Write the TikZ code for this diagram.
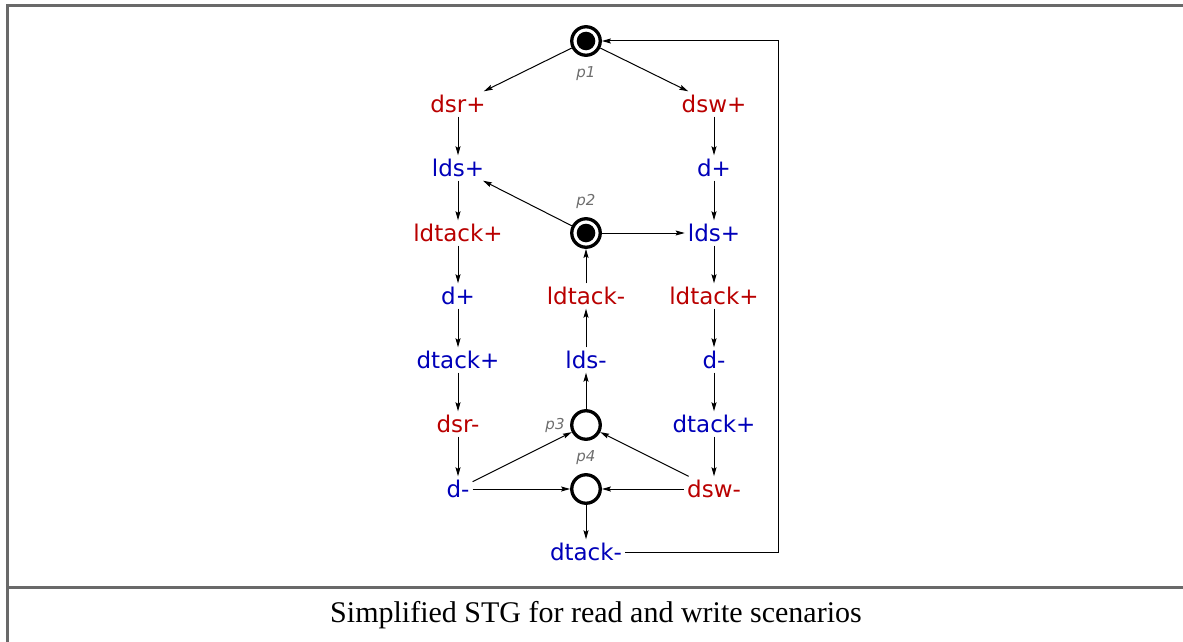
\documentclass[tikz,border=0pt]{standalone}
\usepackage{fontspec}
\newfontfamily\dvsans{DejaVu Sans}
\newfontfamily\dvsansit{DejaVu Sans Oblique}
\newfontfamily\capfont{Liberation Serif}
\usetikzlibrary{arrows.meta}
\definecolor{sigred}{RGB}{185,0,0}
\definecolor{sigblue}{RGB}{0,0,185}
\definecolor{framegray}{RGB}{105,105,105}
\definecolor{lblgray}{RGB}{110,110,110}
\tikzset{
  trans/.style={font=\dvsans\fontsize{23}{23}\selectfont, inner xsep=3pt, inner ysep=4pt,
                text height=17pt, text depth=0pt, anchor=center},
  inp/.style={trans, text=sigred},
  outp/.style={trans, text=sigblue},
  place/.style={circle, draw=black, line width=3.3pt, minimum size=28.5pt, inner sep=0pt},
  marked/.style={place, path picture={\fill[black] (path picture bounding box.center) circle (9.3pt);}},
  plabel/.style={font=\dvsansit\fontsize{15}{15}\selectfont, text=lblgray, inner sep=0pt},
  arr/.style={line width=1pt, -{Stealth[length=9pt,width=5pt,inset=1.5pt]}},
  framestyle/.style={line width=3pt, draw=framegray}
}
\begin{document}
\begin{tikzpicture}[x=1pt,y=-1pt]
\useasboundingbox (0,0) rectangle (1183,642);
% frame and caption separator
\draw[framestyle] (1183,6) -- (7,6) -- (7,642);
\draw[framestyle] (7,587) -- (1183,587);
\node[font=\capfont\fontsize{30}{30}\selectfont, anchor=base] (caption) at (596,622) {Simplified STG for read and write scenarios};

% places
\node[marked] (p1) at (586,41) {};
\node[marked] (p2) at (586,233) {};
\node[place] (p3) at (586,425) {};
\node[place] (p4) at (586,489) {};
\node[plabel] (p1l) at (586,74) {p1};
\node[plabel] (p2l) at (586,201) {p2};
\node[plabel] (p3l) at (555,425) {p3};
\node[plabel] (p4l) at (586,458) {p4};

% read branch
\node[inp]  (dsrP)    at (458,104) {dsr+};
\node[outp] (ldsPa)   at (458,168) {lds+};
\node[inp]  (ldtackPa) at (458,233) {ldtack+};
\node[outp] (dPa)     at (458,296) {d+};
\node[outp] (dtackPa) at (458,360) {dtack+};
\node[inp]  (dsrM)    at (458,424) {dsr-};
\node[outp] (dMa)     at (458,489) {d-};

% write branch
\node[inp]  (dswP)    at (714,104) {dsw+};
\node[outp] (dPb)     at (714,168) {d+};
\node[outp] (ldsPb)   at (714,233) {lds+};
\node[inp]  (ldtackPb) at (714,296) {ldtack+};
\node[outp] (dMb)     at (714,360) {d-};
\node[outp] (dtackPb) at (714,424) {dtack+};
\node[inp]  (dswM)    at (714,489) {dsw-};

% middle column
\node[inp]  (ldtackM) at (586,296) {ldtack-};
\node[outp] (ldsM)    at (586,360) {lds-};
\node[outp] (dtackM)  at (586,552) {dtack-};
\coordinate (loopc) at (778,552);

% arcs
\draw[arr] (p1) -- (dsrP);
\draw[arr] (p1) -- (dswP);
\draw[arr] (dsrP) -- (ldsPa);
\draw[arr] (ldsPa) -- (ldtackPa);
\draw[arr] (ldtackPa) -- (dPa);
\draw[arr] (dPa) -- (dtackPa);
\draw[arr] (dtackPa) -- (dsrM);
\draw[arr] (dsrM) -- (dMa);
\draw[arr] (dswP) -- (dPb);
\draw[arr] (dPb) -- (ldsPb);
\draw[arr] (ldsPb) -- (ldtackPb);
\draw[arr] (ldtackPb) -- (dMb);
\draw[arr] (dMb) -- (dtackPb);
\draw[arr] (dtackPb) -- (dswM);
\draw[arr] (p2) -- (ldsPa);
\draw[arr] (p2) -- (ldsPb);
\draw[arr] (ldtackM) -- (p2);
\draw[arr] (ldsM) -- (ldtackM);
\draw[arr] (p3) -- (ldsM);
\draw[arr] (dMa) -- (p3);
\draw[arr] (dswM) -- (p3);
\draw[arr] (dMa) -- (p4);
\draw[arr] (dswM) -- (p4);
\draw[arr] (p4) -- (dtackM);
\draw[arr] (dtackM) -- (loopc) |- (p1);
\end{tikzpicture}
\end{document}
